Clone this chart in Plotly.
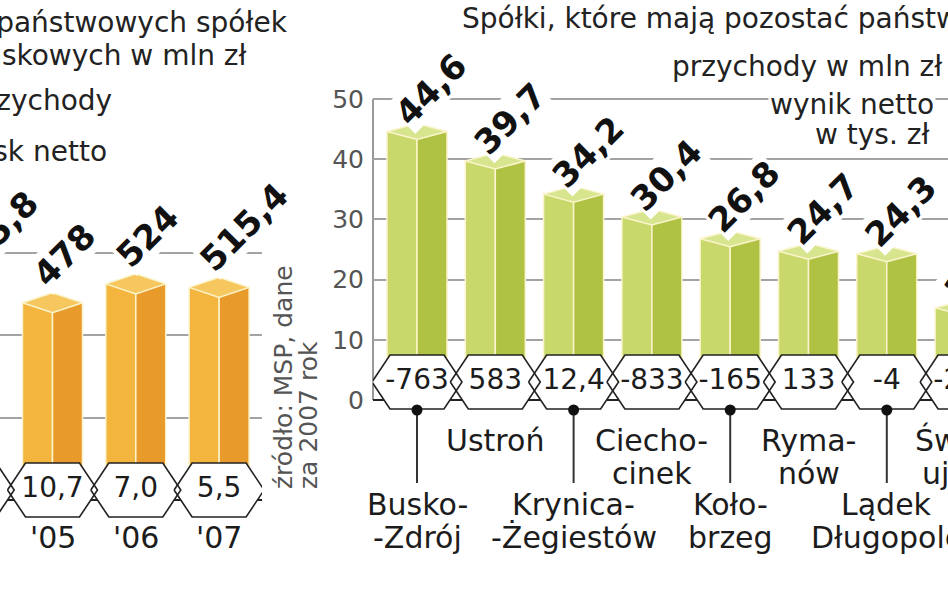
import plotly.graph_objects as go

# left panel: state-owned spa companies, revenue (mln zł) and net profit
years = ["'04", "'05", "'06", "'07"]
revenue = [495.8, 478, 524, 515.4]
profit = [8.9, 10.7, 7.0, 5.5]
left_grid = [0, 200, 400, 600]

# right panel: companies that are to stay state-owned
spas = ["Busko-\n-Zdrój", "Ustroń", "Krynica-\n-Żegiestów", "Ciecho-\ncinek",
        "Koło-\nbrzeg", "Ryma-\nnów", "Lądek\nDługopole", "Świno-\nujście"]
spa_revenue = [44.6, 39.7, 34.2, 30.4, 26.8, 24.7, 24.3, 15.3]
spa_result = [-763, 583, 12.4, -833, -165, 133, -4, -212]
spa_ticks = [0, 10, 20, 30, 40, 50]

W, H = 948, 593
FONT = "DejaVu Sans"
INK = "#1c1c1c"
EDGE = "#fbf4cc"

# pixel geometry of the two panels
LEFT = dict(x0=-30.8, step=83.3, x_from=0, x_to=262, zero=500, k=0.4125,
            bar=60, top=10, hex_y=490, label_y=537, lab_dx=-29, lab_dy=-7,
            colors=("#f3b53d", "#e89a2b", "#f6c75e"))
RIGHT = dict(x0=417, step=78.3, x_from=373, x_to=948, zero=400, k=6.02,
             bar=60, top=8, hex_y=382, label_y=440, lab_dx=-31, lab_dy=3,
             colors=("#c8d86b", "#afc244", "#d8e58f"))


def xpx(p, i):
    return p["x0"] + i * p["step"]


def ypx(p, v):
    return p["zero"] - p["k"] * v


def yval(p, px):
    return (p["zero"] - px) / p["k"]


def comma(v, fmt="g"):
    return format(v, fmt).replace(".", ",")


fig = go.Figure()


def add_panel(p, xa, ya, values, results, res_fmt):
    idx = list(range(len(values)))
    bw = p["bar"] / p["step"]
    c_left, c_right, c_top = p["colors"]
    # two faces of each box
    fig.add_bar(x=idx, y=values, width=bw / 2, offset=-bw / 2, xaxis=xa, yaxis=ya,
                marker=dict(color=c_left, line=dict(color=EDGE, width=1.5)), hoverinfo="skip")
    fig.add_bar(x=idx, y=values, width=bw / 2, offset=0, xaxis=xa, yaxis=ya,
                marker=dict(color=c_right, line=dict(color=EDGE, width=1.5)), hoverinfo="skip")
    # top face
    d = p["top"] / p["k"]
    xs, ys = [], []
    for i, v in zip(idx, values):
        xs += [i - bw / 2, i, i + bw / 2, i, i - bw / 2, None]
        ys += [v, v + d, v, v - d, v, None]
    fig.add_scatter(x=xs, y=ys, mode="lines", fill="toself", fillcolor=c_top,
                    line=dict(color=EDGE, width=1.5), xaxis=xa, yaxis=ya, hoverinfo="skip")
    # hexagon badges with the net result
    yc = yval(p, p["hex_y"])
    hh = 27 / p["k"]
    hw = 45 / p["step"]
    fw = 27 / p["step"]
    xs, ys = [], []
    for i in idx:
        xs += [i - hw, i - fw, i + fw, i + hw, i + fw, i - fw, i - hw, None]
        ys += [yc, yc + hh, yc + hh, yc, yc - hh, yc - hh, yc, None]
    fig.add_scatter(x=xs, y=ys, mode="lines", fill="toself", fillcolor="white",
                    line=dict(color="#222", width=1.6), xaxis=xa, yaxis=ya, hoverinfo="skip")
    fig.add_scatter(x=idx, y=[yc] * len(idx), mode="text", text=[res_fmt(r) for r in results],
                    textfont=dict(family=FONT, size=28, color=INK), xaxis=xa, yaxis=ya,
                    hoverinfo="skip")
    # rotated value labels
    for i, v in zip(idx, values):
        fig.add_annotation(text=comma(v), xref="paper", yref="paper",
                           x=(xpx(p, i) + p["lab_dx"]) / W, y=1 - (ypx(p, v) + p["lab_dy"]) / H,
                           xanchor="left", yanchor="bottom", textangle=-45, showarrow=False,
                           bgcolor="white", borderpad=0,
                           font=dict(family=FONT, size=34, color="#111", weight="bold"))
    return idx


add_panel(LEFT, "x", "y", revenue, profit, lambda r: comma(r, ".1f"))
idx = add_panel(RIGHT, "x2", "y2", spa_revenue, spa_result, comma)

centred = dict(xref="paper", yref="paper", showarrow=False, xanchor="center", yanchor="middle",
               font=dict(family=FONT, size=30, color=INK))

# year labels
for i, yr in enumerate(years):
    fig.add_annotation(text=yr, x=xpx(LEFT, i) / W, y=1 - LEFT["label_y"] / H, **centred)

# spa names, alternating rows, lower row hangs on a pin
pin_top = yval(RIGHT, RIGHT["hex_y"] + 28)
pin_end = yval(RIGHT, 483)
pins = [i for i in idx if i % 2 == 0]
px_, py_ = [], []
for i in pins:
    px_ += [i, i, None]
    py_ += [pin_top, pin_end, None]
fig.add_scatter(x=px_, y=py_, mode="lines", line=dict(color="#333", width=2),
                xaxis="x2", yaxis="y2", hoverinfo="skip")
fig.add_scatter(x=pins, y=[pin_top] * len(pins), mode="markers",
                marker=dict(color="#111", size=11), xaxis="x2", yaxis="y2", hoverinfo="skip")
for i, name in enumerate(spas):
    start = 440 if i % 2 else 504
    for j, line in enumerate(name.split("\n")):
        fig.add_annotation(text=line, x=xpx(RIGHT, i) / W, y=1 - (start + j * 33) / H, **centred)

# titles and legends
txt = dict(xref="paper", yref="paper", showarrow=False, yanchor="middle",
           font=dict(family=FONT, size=28, color="#222"))
fig.add_annotation(text="Wyniki państwowych spółek", x=290 / W, y=1 - 22 / H, xanchor="right", **txt)
fig.add_annotation(text="uzdrowiskowych w mln zł", x=249 / W, y=1 - 55 / H, xanchor="right", **txt)
fig.add_annotation(text="przychody", x=114 / W, y=1 - 100 / H, xanchor="right", **txt)
fig.add_annotation(text="zysk netto", x=109 / W, y=1 - 152 / H, xanchor="right", **txt)
fig.add_annotation(text="Spółki, które mają pozostać państwowe", x=460 / W, y=1 - 18 / H,
                   xanchor="left", **txt)
fig.add_annotation(text="przychody w mln zł", x=944 / W, y=1 - 66 / H, xanchor="right", **txt)
fig.add_annotation(text="wynik netto", x=936 / W, y=1 - 104 / H, xanchor="right",
                   bgcolor="white", **txt)
fig.add_annotation(text="w tys. zł", x=931 / W, y=1 - 134 / H, xanchor="right", **txt)

# source, rotated
src = dict(xref="paper", yref="paper", showarrow=False, textangle=-90, xanchor="center",
           yanchor="bottom", font=dict(family=FONT, size=25, color="#555"))
fig.add_annotation(text="źródło: MSP, dane", x=283 / W, y=1 - 491 / H, **src)
fig.add_annotation(text="za 2007 rok", x=308 / W, y=1 - 491 / H, **src)

# right value axis line
fig.add_shape(type="line", xref="paper", yref="y2", x0=RIGHT["x_from"] / W, x1=RIGHT["x_from"] / W,
              y0=0, y1=spa_ticks[-1], line=dict(color="#777", width=1.5), layer="below")

grid = dict(showgrid=True, gridcolor="#a3a3a3", gridwidth=1.5, zeroline=True,
            zerolinecolor="#222", zerolinewidth=1.5, ticks="", showline=False)
fig.update_layout(
    width=W, height=H, margin=dict(l=0, r=0, t=0, b=0),
    paper_bgcolor="white", plot_bgcolor="white", showlegend=False, barmode="overlay",
    xaxis=dict(domain=[0, LEFT["x_to"] / W], anchor="y", showgrid=False, zeroline=False,
               showticklabels=False,
               range=[(LEFT["x_from"] - LEFT["x0"]) / LEFT["step"], (LEFT["x_to"] - LEFT["x0"]) / LEFT["step"]]),
    yaxis=dict(domain=[0, 1], anchor="x", tickvals=left_grid, showticklabels=False,
               range=[yval(LEFT, H), yval(LEFT, 0)], **grid),
    xaxis2=dict(domain=[RIGHT["x_from"] / W, 1], anchor="y2", showgrid=False, zeroline=False,
                showticklabels=False,
                range=[(RIGHT["x_from"] - RIGHT["x0"]) / RIGHT["step"], (RIGHT["x_to"] - RIGHT["x0"]) / RIGHT["step"]]),
    yaxis2=dict(domain=[0, 1], anchor="x2", tickvals=spa_ticks, ticklabelstandoff=8,
                tickfont=dict(family=FONT, size=25, color="#555"),
                range=[yval(RIGHT, H), yval(RIGHT, 0)], **grid),
)

# the page's default body margin would shift the chart by 8 px
fig.write_html("out.html", config={"displayModeBar": False},
               post_script="document.body.style.margin = '0';")
